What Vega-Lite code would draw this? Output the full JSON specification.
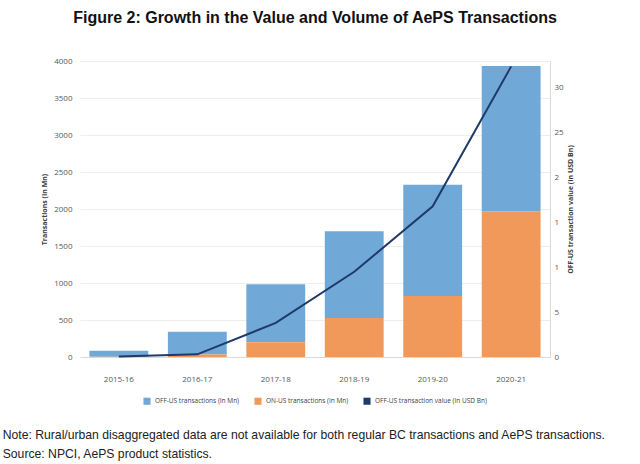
{
  "$schema": "https://vega.github.io/schema/vega-lite/v6.json",
  "padding": {"left": 2, "top": 10, "right": 10, "bottom": 4},
  "title": {
    "text": [
      "Note: Rural/urban disaggregated data are not available for both regular BC transactions and AePS transactions.",
      "Source: NPCI, AePS product statistics."
    ],
    "orient": "bottom",
    "anchor": "start",
    "font": "Liberation Sans",
    "fontSize": 12.2,
    "fontWeight": "normal",
    "color": "#222222",
    "lineHeight": 19,
    "offset": 24,
    "dx": -38,
    "frame": "bounds"
  },
  "config": {
    "view": {"stroke": null},
    "axis": {
      "labelFont": "Open Sans",
      "labelColor": "#595959",
      "labelFontSize": 8,
      "titleFont": "Open Sans",
      "titleFontSize": 7,
      "titleFontWeight": "bold",
      "titleColor": "#404040",
      "ticks": false
    },
    "legend": {
      "labelFont": "Open Sans",
      "labelFontSize": 6.5,
      "labelColor": "#404040",
      "symbolType": "square",
      "symbolSize": 50,
      "symbolStrokeWidth": 0,
      "columnPadding": 14,
      "layout": {"bottom": {"anchor": "middle"}}
    }
  },
  "datasets": {
    "bars": [
      {"year": "2015-16", "series": "OFF-US transactions (In Mn)", "count": 80},
      {"year": "2015-16", "series": "ON-US transactions (In Mn)", "count": 3},
      {"year": "2016-17", "series": "OFF-US transactions (In Mn)", "count": 309},
      {"year": "2016-17", "series": "ON-US transactions (In Mn)", "count": 33},
      {"year": "2017-18", "series": "OFF-US transactions (In Mn)", "count": 784},
      {"year": "2017-18", "series": "ON-US transactions (In Mn)", "count": 198},
      {"year": "2018-19", "series": "OFF-US transactions (In Mn)", "count": 1171},
      {"year": "2018-19", "series": "ON-US transactions (In Mn)", "count": 527},
      {"year": "2019-20", "series": "OFF-US transactions (In Mn)", "count": 1505},
      {"year": "2019-20", "series": "ON-US transactions (In Mn)", "count": 824},
      {"year": "2020-21", "series": "OFF-US transactions (In Mn)", "count": 1964},
      {"year": "2020-21", "series": "ON-US transactions (In Mn)", "count": 1968}
    ],
    "line": [
      {"year": "2015-16", "value": 0.05},
      {"year": "2016-17", "value": 0.3},
      {"year": "2017-18", "value": 3.8},
      {"year": "2018-19", "value": 9.5},
      {"year": "2019-20", "value": 16.8},
      {"year": "2020-21", "value": 32.4}
    ]
  },
  "vconcat": [
    {
      "width": 470,
      "height": 296,
      "title": {
        "text": "Figure 2: Growth in the Value and Volume of AePS Transactions",
        "font": "Liberation Sans",
        "fontSize": 16,
        "fontWeight": "bold",
        "color": "#111111",
        "anchor": "middle",
        "offset": 31
      },
      "layer": [
        {
          "data": {"name": "bars"},
          "mark": {"type": "bar"},
          "encoding": {
            "x": {
              "field": "year",
              "type": "ordinal",
              "scale": {"paddingInner": 0.25, "paddingOuter": 0.12},
              "axis": {
                "title": null,
                "labelAngle": 0,
                "labelPadding": 18,
                "domainColor": "#d9d9d9",
                "labelFontSize": 8
              }
            },
            "y": {
              "field": "count",
              "type": "quantitative",
              "stack": "zero",
              "scale": {"domain": [0, 4000], "nice": false},
              "axis": {
                "title": "Transactions (In Mn)",
                "values": [0, 500, 1000, 1500, 2000, 2500, 3000, 3500, 4000],
                "format": "d",
                "grid": true,
                "gridColor": "#eeeeee",
                "domain": false,
                "labelPadding": 8,
                "titlePadding": 6
              }
            },
            "color": {
              "field": "series",
              "type": "nominal",
              "scale": {
                "domain": ["OFF-US transactions (In Mn)", "ON-US transactions (In Mn)", "OFF-US transaction value (In USD Bn)"],
                "range": ["#70A8D8", "#F0995A", "#1F3A68"]
              },
              "legend": {"orient": "bottom", "title": null, "offset": 14}
            },
            "order": {"field": "series", "sort": "descending"}
          }
        },
        {
          "data": {"name": "line"},
          "mark": {"type": "line", "strokeWidth": 2},
          "encoding": {
            "x": {"field": "year", "type": "ordinal"},
            "y": {
              "field": "value",
              "type": "quantitative",
              "scale": {"domain": [0, 33], "nice": false},
              "axis": {
                "orient": "right",
                "title": "OFF-US transaction value (In USD Bn)",
                "titleAngle": 270,
                "values": [0, 5, 10, 15, 20, 25, 30],
                "labelExpr": "datum.value == 10 || datum.value == 15 ? '1' : datum.value == 20 ? '2' : datum.label",
                "grid": false,
                "domain": true,
                "domainColor": "#d9d9d9",
                "labelPadding": 4,
                "titlePadding": 10
              }
            },
            "color": {"datum": "OFF-US transaction value (In USD Bn)", "type": "nominal"}
          }
        }
      ],
      "resolve": {"scale": {"y": "independent"}}
    }
  ]
}
